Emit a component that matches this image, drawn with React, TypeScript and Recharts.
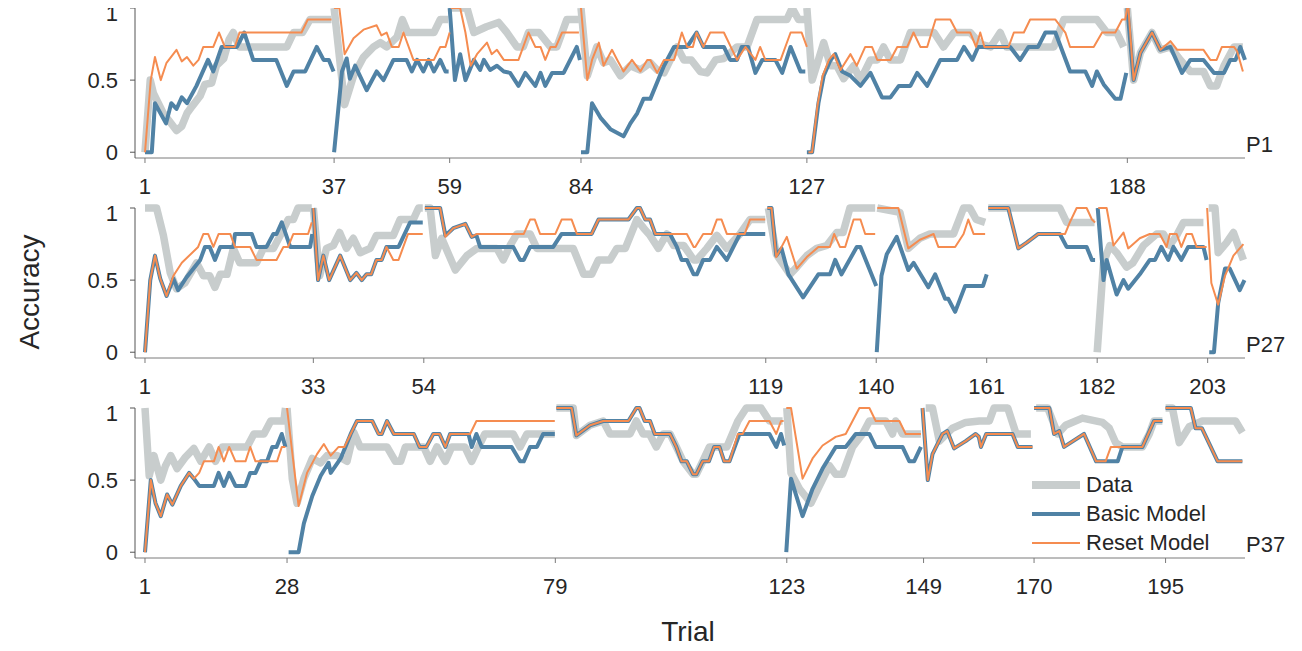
import { Line, LineChart, XAxis, YAxis } from "recharts";

type Seg = [number, number][];

// trial numbers printed under each panel
const p1Ticks = [1, 37, 59, 84, 127, 188];
const p2Ticks = [1, 33, 54, 119, 140, 161, 182, 203];
const p3Ticks = [1, 28, 79, 123, 149, 170, 195];
const yTicks = [0, 0.5, 1];

// P1: one segment per block, [trial, accuracy]
const p1Data: Seg[] = [
  [[1, 0], [2, 0.5], [2.6, 0.41], [4.5, 0.27], [7, 0.15], [8, 0.18], [9, 0.27], [10, 0.32], [11.5, 0.39], [12.4, 0.47], [13.7, 0.48], [14.6, 0.6], [16, 0.65], [17, 0.78], [17.8, 0.83], [19, 0.73], [28, 0.73], [29.3, 0.83], [31, 0.83], [32.4, 0.92], [36.5, 0.92]],
  [[37, 1], [39, 0.33], [40.7, 0.53], [42.6, 0.66], [44.5, 0.73], [45.8, 0.76], [47, 0.73], [49, 0.8], [50, 0.92], [51, 0.83], [56, 0.83], [57.2, 0.92], [58.7, 0.92]],
  [[59, 1], [62.3, 1], [63.6, 0.83], [66, 0.87], [68.3, 0.9], [69.9, 0.83], [71.8, 0.73], [73, 0.73], [74, 0.83], [76, 0.83], [78.2, 0.73], [79.4, 0.73], [81.3, 0.92], [83.6, 0.92]],
  [[84, 1], [85.2, 0.53], [87, 0.73], [88.3, 0.62], [89.6, 0.64], [91.5, 0.53], [93.4, 0.6], [95.3, 0.57], [97.2, 0.62], [98.5, 0.57], [99.8, 0.55], [101, 0.64], [102.3, 0.73], [103.6, 0.64], [105, 0.64], [106.7, 0.56], [108, 0.55], [109.6, 0.64], [111.2, 0.65], [113.7, 0.73], [115.6, 0.73], [117.5, 0.92], [123.2, 0.92], [124.2, 1], [125.4, 0.92], [126.7, 0.92]],
  [[127, 1], [128, 0.5], [129.2, 0.64], [130.2, 0.76], [131.5, 0.6], [132.7, 0.6], [134, 0.51], [135.9, 0.6], [137.2, 0.5], [139.1, 0.64], [140.4, 0.64], [141.6, 0.73], [142.9, 0.64], [144.8, 0.64], [146.7, 0.83], [151.2, 0.83], [153, 0.73], [155, 0.83], [158.1, 0.83], [160, 0.75], [162, 0.73], [163.8, 0.83], [165, 0.73], [174, 0.73], [175.9, 0.92], [182.2, 0.92], [184.1, 0.83], [186, 0.83], [187.3, 0.73]],
  [[188, 1], [189.2, 0.5], [190.5, 0.69], [192.7, 0.83], [194.3, 0.71], [196.2, 0.73], [198.1, 0.64], [200, 0.56], [202.5, 0.56], [203.8, 0.46], [205, 0.46], [206.4, 0.6], [208.3, 0.73], [210, 0.73]],
];
const p1Basic: Seg[] = [
  [[1, 0], [2.3, 0], [2.9, 0.34], [5, 0.2], [6, 0.34], [7, 0.3], [8, 0.38], [9, 0.34], [10.8, 0.46], [13, 0.64], [14, 0.56], [15.6, 0.73], [18.5, 0.73], [19.9, 0.83], [21.6, 0.64], [26, 0.64], [28, 0.46], [29.3, 0.56], [31.5, 0.56], [33.7, 0.73], [35, 0.64], [36, 0.64], [36.9, 0.56]],
  [[37, 0], [38.5, 0.56], [39.4, 0.65], [40, 0.51], [41, 0.6], [43.2, 0.43], [45.1, 0.56], [46.4, 0.5], [48.3, 0.64], [50.8, 0.64], [51.8, 0.56], [52.8, 0.64], [54, 0.56], [55, 0.64], [56, 0.56], [57.2, 0.64], [58.2, 0.56], [58.8, 0.56]],
  [[59, 1], [60, 0.5], [61, 0.68], [62, 0.5], [63.6, 0.64], [64.8, 0.57], [65.5, 0.64], [66.7, 0.57], [68, 0.6], [69.3, 0.56], [70.5, 0.55], [72.1, 0.46], [73.4, 0.55], [75.3, 0.46], [76.3, 0.55], [77.2, 0.46], [78.5, 0.55], [80.7, 0.55], [83.2, 0.73], [83.8, 0.64]],
  [[84, 0], [85.2, 0], [86.1, 0.34], [87.7, 0.24], [89.6, 0.16], [92.1, 0.11], [93.4, 0.2], [94.7, 0.27], [95.9, 0.37], [97.2, 0.37], [99.8, 0.6], [101.7, 0.73], [104.2, 0.73], [106, 0.83], [107.3, 0.73], [111.2, 0.73], [112.4, 0.64], [113.7, 0.64], [114.6, 0.73], [115.8, 0.73], [117.2, 0.55], [118.5, 0.64], [121, 0.64], [122.3, 0.55], [123.9, 0.73], [125.8, 0.56], [126.7, 0.56]],
  [[127, 0], [128, 0], [129.2, 0.34], [130.2, 0.53], [131.5, 0.64], [132.4, 0.68], [133.7, 0.56], [135.3, 0.53], [137.2, 0.46], [139.1, 0.55], [141.3, 0.38], [142.9, 0.38], [144.5, 0.46], [146.7, 0.46], [148, 0.55], [149.9, 0.46], [152.4, 0.64], [155.6, 0.64], [156.9, 0.73], [158.5, 0.64], [159.6, 0.73], [165.7, 0.73], [167.6, 0.64], [169.2, 0.73], [171, 0.73], [172.4, 0.83], [174.3, 0.83], [177.1, 0.56], [180, 0.56], [181.3, 0.46], [182.2, 0.56], [183.5, 0.47], [185.7, 0.37], [186.7, 0.37], [187.8, 0.55]],
  [[188, 1], [189.2, 0.5], [190.5, 0.69], [192.7, 0.83], [194.3, 0.71], [196.2, 0.73], [198.4, 0.55], [200, 0.64], [202.5, 0.64], [204.5, 0.55], [206.4, 0.55], [207.6, 0.64], [208.6, 0.64], [209.5, 0.73], [210.4, 0.64]],
];
const p1Reset: Seg[] = [
  [[1, 0], [2.1, 0.5], [2.9, 0.66], [4, 0.5], [5.1, 0.62], [7, 0.71], [8, 0.63], [9, 0.66], [10.2, 0.6], [11.2, 0.64], [12.1, 0.73], [14, 0.73], [15.1, 0.83], [16.2, 0.73], [18.1, 0.73], [19, 0.83], [30.8, 0.83], [32, 0.92], [36.5, 0.92]],
  [[37, 1], [38, 1], [39, 0.68], [40.7, 0.79], [42.6, 0.85], [45.1, 0.88], [46, 0.81], [47, 0.83], [48, 0.73], [49.3, 0.73], [50.2, 0.83], [52.1, 0.64], [56, 0.64], [57.2, 0.73], [58.2, 0.73], [59, 0.83]],
  [[59.2, 1], [61, 1], [62, 0.83], [63, 0.6], [64.2, 0.68], [66.1, 0.76], [67, 0.68], [68, 0.71], [69.3, 0.64], [72.1, 0.64], [74, 0.83], [75.3, 0.73], [76.3, 0.73], [77.2, 0.64], [78.2, 0.73], [79.2, 0.73], [80.4, 0.83], [83.6, 0.83]],
  [[84, 1], [85.2, 0.5], [86.1, 0.64], [87.4, 0.76], [88.3, 0.6], [89.9, 0.71], [90.9, 0.64], [92.1, 0.56], [93.7, 0.64], [95.3, 0.56], [96.6, 0.64], [97.2, 0.64], [98.5, 0.55], [99.8, 0.64], [101.7, 0.64], [103.2, 0.83], [104.2, 0.73], [105.3, 0.73], [106, 0.83], [107.3, 0.73], [108.6, 0.83], [111.2, 0.83], [113.7, 0.64], [115.3, 0.73], [117.2, 0.64], [118.1, 0.73], [119.1, 0.64], [122, 0.64], [123.9, 0.83], [126, 0.83], [127, 0.73]],
  [[127.3, 0], [128, 0], [129, 0.32], [130, 0.53], [131.2, 0.64], [132.1, 0.68], [133.4, 0.57], [135.3, 0.68], [136.5, 0.6], [138.1, 0.73], [139.4, 0.73], [140.4, 0.64], [142.9, 0.64], [144.2, 0.73], [146.1, 0.73], [147.3, 0.83], [148.6, 0.73], [149.9, 0.73], [151.5, 0.92], [154.3, 0.92], [155.6, 0.83], [158.1, 0.83], [159.2, 0.73], [160, 0.83], [160.8, 0.73], [165.4, 0.73], [166.4, 0.83], [168.3, 0.83], [169.5, 0.92], [174.3, 0.92], [176.2, 0.83], [177.1, 0.73], [181.6, 0.73], [183.2, 0.83], [185.7, 0.83], [187, 0.92], [187.6, 0.92], [188, 1]],
  [[188.2, 1], [189.2, 0.5], [190.5, 0.69], [192.7, 0.83], [194.3, 0.71], [196.2, 0.77], [197.5, 0.71], [202.5, 0.71], [203.8, 0.64], [205, 0.64], [206, 0.73], [208.3, 0.73], [208.9, 0.7], [210, 0.56]],
];

// P27
const p2Data: Seg[] = [
  [[1, 1], [3.2, 1], [4.5, 0.81], [5.8, 0.55], [7, 0.44], [8.6, 0.48], [10.8, 0.62], [12.1, 0.53], [13.3, 0.53], [14.3, 0.45], [15.3, 0.54], [16.6, 0.54], [17.8, 0.72], [19, 0.62], [22.2, 0.62], [23.5, 0.72], [25.4, 0.72], [27, 0.83], [28.2, 0.92], [29.2, 0.92], [30.1, 1], [32.7, 1]],
  [[33, 1], [34.2, 0.53], [35.5, 0.72], [36.8, 0.74], [38, 0.83], [39.3, 0.72], [40.6, 0.79], [41.9, 0.69], [43.8, 0.72], [45, 0.81], [48.2, 0.81], [49.5, 0.92], [52, 0.92], [53, 1], [53.8, 1]],
  [[54.2, 1], [55.2, 1], [56.2, 0.67], [57.4, 0.79], [60, 0.57], [62.2, 0.67], [64.1, 0.72], [67.9, 0.72], [69.1, 0.64], [70.4, 0.74], [71.7, 0.82], [74.2, 0.82], [75.5, 0.72], [82.4, 0.72], [84.4, 0.54], [85.9, 0.54], [87.2, 0.64], [89.4, 0.64], [90.7, 0.72], [92.3, 0.72], [94.5, 0.92], [95.8, 0.86], [97, 0.81], [98.6, 0.72], [100.2, 0.82], [101.5, 0.74], [103.4, 0.74], [105.3, 0.64], [105.9, 0.64], [107.8, 0.72], [109.7, 0.81], [111.6, 0.72], [114.1, 0.82], [116, 0.92], [118.9, 0.92]],
  [[119.5, 1], [121, 0.68], [123.6, 0.54], [124.9, 0.59], [126.8, 0.67], [128.7, 0.72], [130.6, 0.74], [132.5, 0.83], [133.7, 0.83], [135, 1], [139.8, 1]],
  [[140.2, 1], [144.5, 0.97], [146.1, 0.72], [148.3, 0.79], [150.2, 0.82], [154.7, 0.82], [156.6, 1], [157.8, 1], [159, 0.92], [160.7, 0.9]],
  [[161.3, 1], [174.9, 1], [176.2, 0.9], [181.5, 0.9]],
  [[182, 0], [183.2, 0.62], [184.4, 0.74], [185.7, 0.69], [187.6, 0.59], [188.8, 0.62], [190.8, 0.74], [193.3, 0.82], [194.6, 0.82], [195.8, 0.74], [197.1, 0.81], [198.4, 0.9], [202.2, 0.9]],
  [[203.2, 1], [204.4, 1], [205, 0.69], [206.6, 0.76], [207.9, 0.83], [209.8, 0.64]],
];
const p2Basic: Seg[] = [
  [[1, 0], [2, 0.5], [2.9, 0.67], [3.9, 0.51], [5.1, 0.39], [6.4, 0.51], [7.3, 0.43], [8.9, 0.52], [11.5, 0.64], [12.4, 0.73], [13.3, 0.73], [14.3, 0.64], [15.3, 0.73], [17.8, 0.73], [18.1, 0.82], [21.3, 0.82], [22.2, 0.73], [24.1, 0.73], [25.4, 0.82], [26, 0.82], [27, 0.9], [28.6, 0.73], [32.4, 0.73], [32.8, 0.82]],
  [[33, 1], [33.9, 0.5], [34.9, 0.67], [36, 0.5], [38.1, 0.67], [40, 0.5], [41.2, 0.55], [42.2, 0.5], [43.1, 0.54], [44, 0.54], [45, 0.64], [46, 0.64], [46.9, 0.73], [49.2, 0.73], [51.4, 0.9], [53.8, 0.9]],
  [[54.2, 1], [57.1, 1], [58.1, 0.81], [59.6, 0.86], [61.9, 0.89], [63.1, 0.8], [64, 0.81], [64.7, 0.73], [71, 0.73], [72.3, 0.64], [73, 0.64], [74.2, 0.73], [78.6, 0.73], [80.2, 0.82], [85.9, 0.82], [87.2, 0.92], [92.9, 0.92], [94.5, 1], [95.1, 1], [96.1, 0.92], [97, 0.92], [98, 0.82], [100.8, 0.82], [102.1, 0.73], [103, 0.64], [104, 0.64], [105.3, 0.54], [105.9, 0.54], [107.1, 0.64], [108.4, 0.64], [109.7, 0.73], [111.6, 0.64], [114.1, 0.82], [118.9, 0.82]],
  [[119.3, 1], [120.1, 1], [121, 0.67], [122, 0.72], [123.3, 0.54], [126.1, 0.38], [129, 0.54], [131.2, 0.54], [132.2, 0.64], [133.4, 0.54], [136.3, 0.73], [137, 0.73], [140, 0.46]],
  [[140.1, 0], [141, 0.53], [142, 0.68], [143.9, 0.8], [146.1, 0.57], [147.1, 0.62], [149.9, 0.45], [151.2, 0.54], [153.1, 0.37], [153.7, 0.37], [155, 0.28], [156.9, 0.46], [160.3, 0.46], [161, 0.54]],
  [[161.3, 1], [165.1, 1], [167, 0.72], [168.6, 0.76], [170.8, 0.82], [174.9, 0.82], [176.2, 0.73], [180, 0.73], [181, 0.64], [181.6, 0.64]],
  [[182.1, 1], [183.2, 0.5], [183.8, 0.64], [185.7, 0.4], [187, 0.5], [187.9, 0.44], [190.1, 0.54], [192, 0.64], [193, 0.64], [194.2, 0.73], [195.5, 0.64], [196.5, 0.73], [198, 0.64], [199.3, 0.73], [202.2, 0.73], [202.8, 0.64]],
  [[203.3, 0], [204.2, 0], [205, 0.34], [206.3, 0.58], [207.2, 0.58], [209.1, 0.43], [210, 0.5]],
];
const p2Reset: Seg[] = [
  [[1, 0], [2, 0.5], [2.9, 0.67], [3.9, 0.51], [5.1, 0.39], [6.4, 0.53], [8, 0.62], [11.1, 0.73], [12.1, 0.82], [13, 0.82], [14, 0.73], [15, 0.82], [17.2, 0.82], [18.1, 0.73], [21, 0.73], [22.2, 0.64], [26, 0.64], [27.3, 0.73], [28.2, 0.73], [29.2, 0.82], [32, 0.82], [32.7, 0.9]],
  [[33, 1], [33.9, 0.5], [34.9, 0.67], [36, 0.5], [38.1, 0.67], [40, 0.5], [41.2, 0.55], [42.2, 0.5], [43.1, 0.54], [44, 0.54], [45, 0.64], [46, 0.64], [46.9, 0.73], [48.2, 0.64], [49.2, 0.64], [51, 0.82], [53.8, 0.82]],
  [[54.2, 1], [57.1, 1], [58.1, 0.8], [59.6, 0.86], [61.9, 0.89], [63.1, 0.8], [64.1, 0.82], [73, 0.82], [74.2, 0.92], [75.1, 0.92], [76.1, 0.82], [79, 0.82], [80.2, 0.92], [82.1, 0.92], [83.1, 0.82], [85.9, 0.82], [87.2, 0.92], [92.9, 0.92], [94.5, 1], [95.1, 1], [96.1, 0.92], [97, 0.92], [98, 0.82], [104, 0.82], [105.3, 0.73], [105.6, 0.73], [107.1, 0.82], [108.7, 0.82], [109.7, 0.92], [110.6, 0.92], [111.6, 0.82], [115, 0.82], [116, 0.92], [118.9, 0.92]],
  [[119.3, 1], [120.1, 1], [121, 0.66], [123, 0.8], [124.9, 0.58], [126.8, 0.66], [129, 0.73], [131.2, 0.73], [132, 0.82], [133.1, 0.73], [134.1, 0.73], [135.7, 0.92], [137, 0.92], [137.9, 0.82], [139.8, 0.82]],
  [[140.2, 1], [144.2, 1], [146.1, 0.72], [148.3, 0.78], [150.9, 0.82], [151.8, 0.73], [155, 0.73], [156.6, 0.82], [157.5, 0.92], [158.5, 0.82], [160.7, 0.82]],
  [[161.3, 1], [165.1, 1], [167, 0.72], [168.6, 0.76], [170.8, 0.82], [175.9, 0.82], [176.8, 0.9], [178.1, 1], [180, 1], [181, 0.92], [181.6, 0.9]],
  [[182.2, 1], [183.8, 1], [185.1, 0.74], [187, 0.83], [187.9, 0.72], [190.1, 0.79], [192, 0.82], [193.9, 0.82], [195.2, 0.73], [195.8, 0.82], [197.1, 0.82], [198, 0.73], [199, 0.82], [200, 0.82], [200.9, 0.73], [202.8, 0.73]],
  [[202.9, 1], [203.7, 0.48], [205, 0.33], [206.3, 0.53], [207.9, 0.67], [209.8, 0.75]],
];

// P37
const p3Data: Seg[] = [
  [[1, 1], [1.8, 0.53], [2.7, 0.67], [4, 0.5], [4.9, 0.6], [5.9, 0.67], [7.1, 0.58], [8.7, 0.66], [10.3, 0.72], [11.6, 0.63], [13.2, 0.73], [14.4, 0.63], [15.7, 0.73], [20.4, 0.73], [21.7, 0.82], [23.6, 0.82], [24.9, 0.91], [27.4, 0.91], [27.7, 1]],
  [[28, 1], [29, 0.51], [29.9, 0.34], [31.2, 0.51], [32.8, 0.65], [34.4, 0.62], [35.6, 0.67], [37.5, 0.67], [39.4, 0.63], [40.7, 0.83], [41.9, 0.73], [47, 0.73], [48.6, 0.63], [49.6, 0.63], [50.5, 0.73], [54, 0.73], [55.2, 0.63], [56.5, 0.73], [58.1, 0.63], [59.3, 0.73], [61.8, 0.73], [63.1, 0.63], [64.4, 0.73], [65.6, 0.82], [71, 0.82], [72.3, 0.73], [73.6, 0.82], [78.9, 0.82]],
  [[79.2, 1], [82.4, 1], [83, 0.81], [85.6, 0.88], [88.1, 0.91], [89.4, 0.82], [93.2, 0.82], [94.4, 0.91], [95.7, 0.82], [96.9, 0.82], [98.2, 0.73], [99.5, 0.82], [100.8, 0.82], [102, 0.73], [103.3, 0.63], [105.2, 0.54], [105.8, 0.54], [107, 0.63], [108.3, 0.73], [111.6, 0.73], [113.7, 0.91], [115.3, 1], [118.1, 1], [119.7, 0.91], [122.2, 0.91]],
  [[123, 1], [123.8, 0.55], [125.4, 0.44], [127.6, 0.34], [129.2, 0.46], [131.1, 0.6], [132.3, 0.54], [133.6, 0.54], [135.5, 0.73], [137.4, 0.82], [138.7, 0.91], [141.8, 0.91], [143.1, 0.82], [143.7, 0.91], [145, 0.82], [148.5, 0.82]],
  [[149.4, 1], [150.7, 1], [152, 0.77], [154.5, 0.86], [157, 0.9], [159.6, 0.91], [161.5, 0.91], [162.4, 1], [165, 1], [166.6, 0.82], [169.4, 0.82]],
  [[170.4, 1], [172.6, 1], [174.5, 0.82], [176, 0.88], [179.2, 0.93], [183, 0.9], [184.3, 0.86], [185.5, 0.76], [186.8, 0.73], [190.6, 0.73], [191.9, 0.82], [192.8, 0.91], [194.4, 0.91]],
  [[195, 1], [196.3, 1], [197.6, 0.76], [199.5, 0.87], [202, 0.91], [208.3, 0.91], [209.6, 0.83]],
];
const p3Basic: Seg[] = [
  [[1, 0], [2.1, 0.5], [3, 0.34], [4, 0.25], [5.2, 0.4], [6.2, 0.33], [7.8, 0.46], [9.4, 0.55], [10.3, 0.51], [11.3, 0.46], [14.1, 0.46], [15, 0.55], [16, 0.46], [17, 0.55], [18.2, 0.46], [20.1, 0.46], [21, 0.55], [22, 0.55], [23, 0.63], [24.2, 0.63], [25.2, 0.73], [26, 0.73], [27, 0.82], [27.7, 0.73]],
  [[28.3, 0], [30.2, 0], [31.2, 0.2], [32.8, 0.39], [34.4, 0.53], [35.9, 0.62], [36.3, 0.55], [38.2, 0.65], [40.1, 0.82], [41.3, 0.91], [44.2, 0.91], [45.4, 0.82], [46, 0.82], [47, 0.91], [48.3, 0.82], [52.1, 0.82], [53.2, 0.73], [54.5, 0.73], [55.8, 0.82], [57, 0.82], [58.1, 0.73], [59, 0.82], [62.5, 0.82], [63.1, 0.73], [64, 0.82], [65, 0.73], [70.7, 0.73], [72.3, 0.63], [73, 0.63], [74.2, 0.73], [75.5, 0.73], [76.7, 0.82], [78.9, 0.82]],
  [[79.2, 1], [82.1, 1], [83, 0.81], [85.6, 0.88], [88.1, 0.91], [92.9, 0.91], [94.4, 1], [95, 1], [96, 0.91], [97, 0.91], [97.9, 0.82], [100.8, 0.82], [102, 0.73], [103, 0.63], [104, 0.63], [105.2, 0.54], [105.8, 0.54], [107, 0.63], [108.2, 0.63], [109.2, 0.73], [110.2, 0.73], [111.1, 0.63], [112.1, 0.63], [114, 0.82], [119.7, 0.82], [121, 0.73], [121.9, 0.82], [122.5, 0.74]],
  [[122.9, 0], [123.8, 0.51], [126, 0.25], [127.9, 0.44], [129.8, 0.58], [132.3, 0.73], [134.2, 0.73], [136.1, 0.82], [138.7, 0.82], [139.9, 0.73], [145, 0.73], [146.3, 0.63], [147.2, 0.63], [148.5, 0.73]],
  [[148.8, 1], [149.8, 0.5], [150.7, 0.68], [152.6, 0.82], [153.5, 0.84], [154.8, 0.72], [157, 0.77], [158.9, 0.82], [159.5, 0.8], [159.9, 0.73], [160.9, 0.82], [165.9, 0.82], [166.9, 0.73], [169.7, 0.73]],
  [[170, 1], [172.9, 1], [173.8, 0.82], [174.8, 0.84], [175.7, 0.73], [179.5, 0.82], [181.8, 0.63], [185.9, 0.63], [186.8, 0.73], [190.6, 0.73], [192.8, 0.91], [194.4, 0.91]],
  [[195, 1], [199.8, 1], [200.7, 0.86], [201.9, 0.86], [204.9, 0.63], [209.6, 0.63]],
];
const p3Reset: Seg[] = [
  [[1, 0], [2.1, 0.5], [3, 0.34], [4, 0.25], [5.2, 0.4], [6.2, 0.33], [7.8, 0.46], [9.4, 0.55], [10.3, 0.51], [11.3, 0.55], [12.2, 0.63], [14.1, 0.63], [15, 0.73], [16, 0.63], [17, 0.73], [18.2, 0.63], [20.1, 0.63], [21, 0.73], [22, 0.63], [26.1, 0.63], [27, 0.73], [27.7, 0.73]],
  [[28, 1], [30.2, 0.32], [31.8, 0.55], [33.7, 0.68], [35, 0.75], [36.3, 0.67], [37.8, 0.73], [38.9, 0.73], [40.1, 0.82], [41.3, 0.91], [44.2, 0.91], [45.4, 0.82], [46, 0.82], [47, 0.91], [48.3, 0.82], [52.1, 0.82], [53.2, 0.73], [54.5, 0.73], [55.8, 0.82], [57, 0.82], [58.1, 0.73], [59, 0.82], [62.8, 0.82], [64, 0.91], [78.9, 0.91]],
  [[79.2, 1], [82.1, 1], [83, 0.81], [85.6, 0.88], [88.1, 0.91], [92.9, 0.91], [94.4, 1], [95, 1], [96, 0.91], [97, 0.91], [97.9, 0.82], [100.8, 0.82], [102, 0.73], [103, 0.63], [104, 0.63], [105.2, 0.54], [105.8, 0.54], [107, 0.63], [108.2, 0.63], [109.2, 0.73], [110.2, 0.73], [111.1, 0.63], [112.1, 0.63], [113.7, 0.82], [114.6, 0.82], [115.9, 0.91], [119.7, 0.91], [121, 0.82], [121.9, 0.91], [122.4, 0.91]],
  [[122.9, 1], [123.8, 1], [126, 0.51], [127.9, 0.65], [129.8, 0.74], [132.3, 0.8], [134.2, 0.82], [135.5, 0.91], [136.8, 1], [138.7, 1], [139.9, 0.91], [144.4, 0.91], [145.6, 0.82], [148.5, 0.82]],
  [[148.8, 1], [149.8, 0.5], [150.7, 0.68], [152.6, 0.82], [153.5, 0.84], [154.8, 0.72], [157, 0.77], [158.9, 0.82], [159.5, 0.8], [159.9, 0.73], [160.9, 0.82], [165.9, 0.82], [166.9, 0.73], [169.7, 0.73]],
  [[170, 1], [172.9, 1], [173.8, 0.82], [174.8, 0.84], [175.7, 0.73], [179.5, 0.82], [181.8, 0.63], [183.6, 0.63], [184.6, 0.73], [190.6, 0.73], [192.8, 0.91], [194.4, 0.91]],
  [[195, 1], [199.8, 1], [200.7, 0.86], [201.9, 0.86], [204.9, 0.63], [209.6, 0.63]],
];

const FONT = '"Liberation Sans", Arial, Helvetica, sans-serif';
const TEXT = "#262626";
const GRAY = "#c8cdcd";
const BLUE = "#5082a5";
const ORANGE = "#f58c50";

const legendItems = [
  { name: "Data", color: GRAY, width: 8 },
  { name: "Basic Model", color: BLUE, width: 4 },
  { name: "Reset Model", color: ORANGE, width: 2 },
];

const toRows = (seg: Seg) => seg.map(([t, v]) => ({ t, v }));

function LegendBox() {
  return (
    <div style={{ position: "absolute", left: 1032, top: 70, fontFamily: FONT, fontSize: 22, color: TEXT }}>
      {legendItems.map((it) => (
        <div key={it.name} style={{ display: "flex", alignItems: "center", height: 29 }}>
          <svg width={48} height={10} style={{ marginRight: 6 }}>
            <line x1={0} y1={5} x2={48} y2={5} stroke={it.color} strokeWidth={it.width} />
          </svg>
          <span>{it.name}</span>
        </div>
      ))}
    </div>
  );
}

function Panel({ label, data, basic, reset, ticks, top, legend }: {
  label: string;
  data: Seg[];
  basic: Seg[];
  reset: Seg[];
  ticks: number[];
  top: number;
  legend?: boolean;
}) {
  const lineProps = { dataKey: "v", dot: false, isAnimationActive: false, strokeLinejoin: "round" as const, legendType: "none" as const };
  return (
    <div style={{ position: "absolute", left: 0, top, width: 1302, height: 200 }}>
      <LineChart width={1302} height={200} margin={{ top: 8, right: 57, bottom: 12, left: 75 }}>
        <XAxis
          dataKey="t"
          type="number"
          domain={[-0.9, 210.1]}
          ticks={ticks}
          interval={0}
          tickSize={5}
          tickMargin={15}
          stroke="#7a7a7a"
          tick={{ fill: TEXT, fontSize: 22, fontFamily: FONT }}
        />
        <YAxis
          type="number"
          domain={[-0.04, 1]}
          ticks={yTicks}
          width={60}
          tickSize={5}
          tickMargin={12}
          stroke="#555"
          tick={{ fill: TEXT, fontSize: 22, fontFamily: FONT }}
        />
        {data.map((s, i) => (
          <Line key={"d" + i} {...lineProps} data={toRows(s)} stroke={GRAY} strokeWidth={7.5} />
        ))}
        {basic.map((s, i) => (
          <Line key={"b" + i} {...lineProps} data={toRows(s)} stroke={BLUE} strokeWidth={4} />
        ))}
        {reset.map((s, i) => (
          <Line key={"r" + i} {...lineProps} data={toRows(s)} stroke={ORANGE} strokeWidth={2} />
        ))}
      </LineChart>
      {legend && <LegendBox />}
      <div style={{ position: "absolute", left: 1246, top: 134, fontFamily: FONT, fontSize: 22, color: TEXT, lineHeight: 1 }}>
        {label}
      </div>
    </div>
  );
}

export default function App() {
  return (
    <div style={{ position: "relative", width: 1302, height: 651, marginTop: -8, marginLeft: -8, background: "#fff" }}>
      <Panel label="P1" data={p1Data} basic={p1Basic} reset={p1Reset} ticks={p1Ticks} top={0} />
      <Panel label="P27" data={p2Data} basic={p2Basic} reset={p2Reset} ticks={p2Ticks} top={200} />
      <Panel label="P37" data={p3Data} basic={p3Basic} reset={p3Reset} ticks={p3Ticks} top={400} legend />
      <div
        style={{
          position: "absolute",
          left: 30,
          top: 292,
          transform: "translate(-50%, -50%) rotate(-90deg)",
          fontFamily: FONT,
          fontSize: 28,
          color: TEXT,
          whiteSpace: "nowrap",
        }}
      >
        Accuracy
      </div>
      <div
        style={{
          position: "absolute",
          left: 688,
          top: 632,
          transform: "translate(-50%, -50%)",
          fontFamily: FONT,
          fontSize: 28,
          color: TEXT,
        }}
      >
        Trial
      </div>
    </div>
  );
}
